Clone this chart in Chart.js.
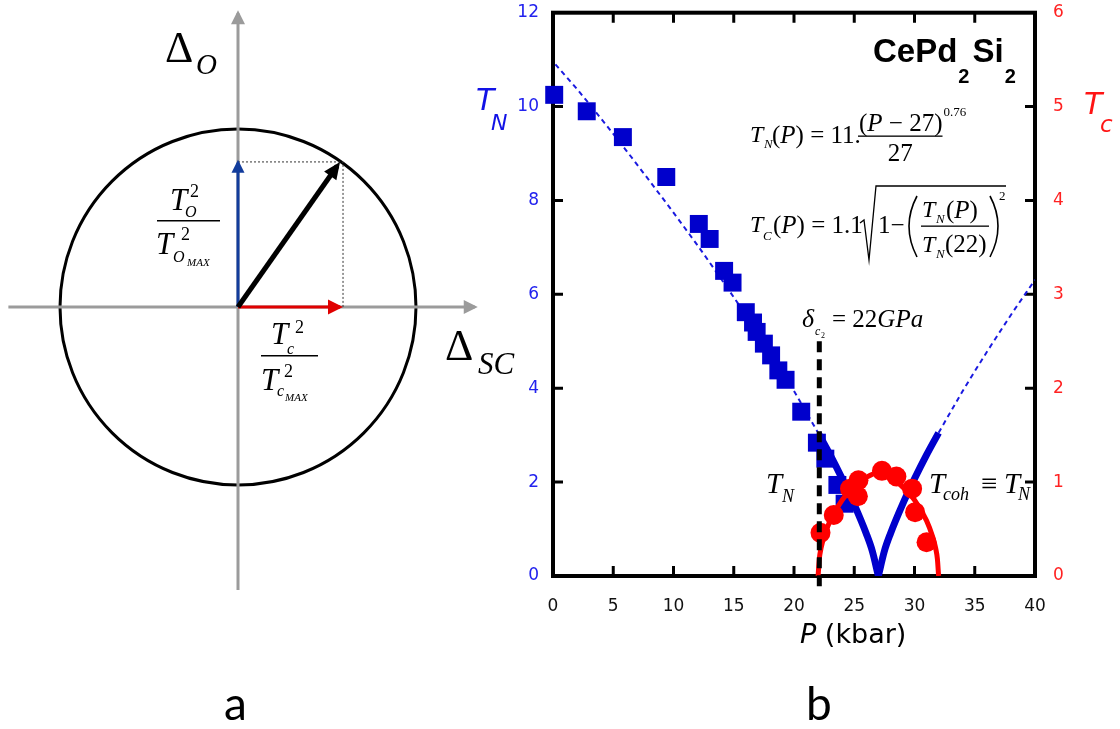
<!DOCTYPE html>
<html>
<head>
<meta charset="utf-8">
<script src="https://cdn.jsdelivr.net/npm/chart.js@4.4.1/dist/chart.umd.min.js"></script>
<style>
  html, body { margin: 0; background: #fff; }
  #wrap { position: relative; width: 1120px; height: 729px; }
  canvas { position: absolute; left: 0; top: 0; }
</style>
</head>
<body>
<div id="wrap">
  <canvas id="circleChart" width="540" height="600"></canvas>
  <canvas id="phaseChart" width="1120" height="729"></canvas>
</div>
<script>
// ---------- panel a : order parameter circle (units of circle radius) ----------
const circleRadius = 1;
const axisX = [-1.29, 1.33];        // Delta_SC axis
const axisY = [-1.59, 1.65];        // Delta_O axis
const orderTip = 0.81;              // T_O^2 / T_Omax^2
const scTip = 0.573;                // T_c^2 / T_cmax^2
const resultX = [0, 0.557];
const resultY = [0, 0.792];
const guideX = [0, 0.59, 0.59];
const guideY = [0.815, 0.815, 0];

// ---------- panel b : CePd2Si2 phase diagram ----------
const xTickValues = [0, 5, 10, 15, 20, 25, 30, 35, 40];
const pN = [0.1, 2.8, 5.8, 9.4, 12.1, 13.0, 14.2, 14.9, 16.0, 16.6, 16.9, 17.5, 18.1, 18.7, 19.3, 20.6, 21.9, 22.6, 23.6, 24.2];
const tN = [10.25, 9.9, 9.35, 8.5, 7.5, 7.18, 6.5, 6.25, 5.62, 5.4, 5.2, 4.95, 4.7, 4.38, 4.18, 3.5, 2.84, 2.5, 1.94, 1.54];
const pC = [22.2, 23.3, 24.65, 25.35, 25.3, 27.3, 28.5, 29.8, 30.05, 31.0];
const tC = [0.46, 0.65, 0.93, 1.02, 0.85, 1.12, 1.06, 0.93, 0.68, 0.36];

const fitLeftP = [0.2, 2, 4, 6, 8, 10, 12, 14, 16, 18, 20, 22];
const fitLeftT = [10.9, 10.37, 9.74, 9.09, 8.42, 7.74, 7.04, 6.31, 5.56, 4.77, 3.94, 3.05];
const vLeftP = [22, 23, 24, 25, 26, 26.5, 27];
const vLeftT = [3.05, 2.58, 2.07, 1.52, 0.90, 0.53, 0];
const vRightP = [27, 27.5, 28, 29, 30, 31, 32];
const vRightT = [0, 0.53, 0.90, 1.52, 2.07, 2.58, 3.05];
const fitRightP = [32, 34, 36, 38, 40];
const fitRightT = [3.05, 3.94, 4.77, 5.56, 6.31];
const tcFitP = [22, 22.1, 22.25, 22.5, 23, 24, 25, 26, 27, 28, 29, 30, 31, 31.5, 31.75, 31.9, 32];
const tcFitT = [0, 0.18, 0.30, 0.42, 0.59, 0.81, 0.95, 1.05, 1.10, 1.05, 0.95, 0.81, 0.59, 0.42, 0.30, 0.18, 0];
const deltaP = [22.1, 22.1];
const deltaT = [5.0, -0.34];

const pts = (xs, ys) => xs.map((x, i) => ({ x: x, y: ys[i] }));
const SERIF = '"Liberation Serif"';
const SANS = '"DejaVu Sans"';

function put(ctx, t, x, y, font) {
  ctx.font = font;
  ctx.fillText(t, x, y);
  return x + ctx.measureText(t).width;
}

// arrow heads at the end of datasets that ask for one
const arrowHeads = {
  id: 'arrowHeads',
  afterDatasetsDraw(chart) {
    const ctx = chart.ctx;
    chart.data.datasets.forEach((ds, i) => {
      if (!ds.head) return;
      const el = chart.getDatasetMeta(i).data;
      const a = el[el.length - 2], b = el[el.length - 1];
      const ang = Math.atan2(b.y - a.y, b.x - a.x);
      const len = ds.head[0], wid = ds.head[1];
      const ext = ds.borderWidth;
      ctx.save();
      ctx.fillStyle = ds.borderColor;
      ctx.translate(b.x + Math.cos(ang) * ext, b.y + Math.sin(ang) * ext);
      ctx.rotate(ang);
      ctx.beginPath();
      ctx.moveTo(0, 0);
      ctx.lineTo(-len, wid / 2);
      ctx.lineTo(-len, -wid / 2);
      ctx.closePath();
      ctx.fill();
      ctx.restore();
    });
  }
};

const circlePlugin = {
  id: 'circle',
  beforeDatasetsDraw(chart) {
    const { ctx, scales } = chart;
    const cx = scales.x.getPixelForValue(0), cy = scales.y.getPixelForValue(0);
    const r = scales.x.getPixelForValue(circleRadius) - cx;
    ctx.save();
    ctx.strokeStyle = '#000';
    ctx.lineWidth = 3;
    ctx.beginPath();
    ctx.arc(cx, cy, r, 0, Math.PI * 2);
    ctx.stroke();
    ctx.restore();
  }
};

const circleText = {
  id: 'circleText',
  afterDraw(chart) {
    const ctx = chart.ctx;
    ctx.save();
    ctx.fillStyle = '#000';
    ctx.textAlign = 'left';
    ctx.textBaseline = 'alphabetic';
    put(ctx, '\u0394', 165, 62, `44px ${SERIF}`);
    put(ctx, 'O', 196, 74, `italic 29px ${SERIF}`);
    put(ctx, '\u0394', 445, 360, `44px ${SERIF}`);
    put(ctx, 'SC', 478, 374, `italic 31px ${SERIF}`);

    // T_O^2 / T_Omax^2
    put(ctx, 'T', 170, 210, `italic 31px ${SERIF}`);
    put(ctx, '2', 190, 197, `18px ${SERIF}`);
    put(ctx, 'O', 185, 217, `italic 16px ${SERIF}`);
    ctx.fillRect(157, 220, 63, 1.5);
    put(ctx, 'T', 156, 254, `italic 31px ${SERIF}`);
    put(ctx, '2', 181, 240, `18px ${SERIF}`);
    put(ctx, 'O', 173, 262, `italic 16px ${SERIF}`);
    put(ctx, 'MAX', 187, 266, `italic 11px ${SERIF}`);

    // T_c^2 / T_cmax^2
    put(ctx, 'T', 271, 344, `italic 31px ${SERIF}`);
    put(ctx, '2', 295, 333, `18px ${SERIF}`);
    put(ctx, 'c', 287, 354, `italic 16px ${SERIF}`);
    ctx.fillRect(261, 355, 57, 1.5);
    put(ctx, 'T', 261, 390, `italic 31px ${SERIF}`);
    put(ctx, '2', 284, 377, `18px ${SERIF}`);
    put(ctx, 'c', 277, 396, `italic 16px ${SERIF}`);
    put(ctx, 'MAX', 285, 401, `italic 11px ${SERIF}`);
    ctx.restore();
  }
};

new Chart(document.getElementById('circleChart'), {
  type: 'scatter',
  data: {
    datasets: [
      { data: pts(axisX, [0, 0]), showLine: true, borderColor: '#9b9b9b', borderWidth: 3, pointRadius: 0, head: [14, 14], order: 5 },
      { data: pts([0, 0], axisY), showLine: true, borderColor: '#9b9b9b', borderWidth: 3, pointRadius: 0, head: [14, 14], order: 4 },
      { data: pts(guideX, guideY), showLine: true, borderColor: '#333', borderWidth: 1, borderDash: [2, 2], pointRadius: 0, order: 3 },
      { data: pts([0, 0], [0, orderTip]), showLine: true, borderColor: '#123c9c', borderWidth: 3, pointRadius: 0, head: [13, 13], order: 2 },
      { data: pts([0, scTip], [0, 0]), showLine: true, borderColor: '#e00000', borderWidth: 3, pointRadius: 0, head: [15, 15], order: 1 },
      { data: pts(resultX, resultY), showLine: true, borderColor: '#000', borderWidth: 5, pointRadius: 0, head: [17, 15], order: 0 }
    ]
  },
  options: {
    responsive: false,
    animation: false,
    layout: { padding: 0 },
    plugins: { legend: { display: false }, tooltip: { enabled: false } },
    scales: {
      x: { type: 'linear', display: false, min: -238 / 178, max: 302 / 178 },
      y: { type: 'linear', display: false, min: -293 / 178, max: 307 / 178 }
    }
  },
  plugins: [circlePlugin, arrowHeads, circleText]
});

// frame with inward ticks on all four sides
const framePlugin = {
  id: 'frame',
  beforeDatasetsDraw(chart) {
    const { ctx, chartArea: a, scales } = chart;
    ctx.save();
    ctx.strokeStyle = '#000';
    ctx.lineWidth = 3;
    ctx.beginPath();
    scales.x.ticks.forEach(t => {
      if (t.value <= 0 || t.value >= 40) return;
      const px = scales.x.getPixelForValue(t.value);
      ctx.moveTo(px, a.bottom); ctx.lineTo(px, a.bottom - 10);
      ctx.moveTo(px, a.top); ctx.lineTo(px, a.top + 10);
    });
    scales.y.ticks.forEach(t => {
      if (t.value <= 0 || t.value >= 12) return;
      const py = scales.y.getPixelForValue(t.value);
      ctx.moveTo(a.left, py); ctx.lineTo(a.left + 10, py);
    });
    scales.y2.ticks.forEach(t => {
      if (t.value <= 0 || t.value >= 6) return;
      const py = scales.y2.getPixelForValue(t.value);
      ctx.moveTo(a.right, py); ctx.lineTo(a.right - 10, py);
    });
    ctx.stroke();
    ctx.lineWidth = 4;
    ctx.strokeRect(a.left, a.top, a.right - a.left, a.bottom - a.top);
    ctx.restore();
  }
};

const phaseText = {
  id: 'phaseText',
  afterDraw(chart) {
    const ctx = chart.ctx;
    ctx.save();
    ctx.textAlign = 'left';
    ctx.textBaseline = 'alphabetic';
    let x;

    // axis titles
    ctx.fillStyle = '#000';
    x = put(ctx, 'P', 800, 643, `italic 27px ${SANS}`);
    put(ctx, ' (kbar)', x, 643, `27px ${SANS}`);
    ctx.fillStyle = '#1212e6';
    put(ctx, 'T', 476, 110, `italic 30px ${SANS}`);
    put(ctx, 'N', 491, 130, `italic 22px ${SANS}`);
    ctx.fillStyle = '#ff1414';
    put(ctx, 'T', 1084, 114, `italic 30px ${SANS}`);
    put(ctx, 'c', 1100, 132, `italic 23px ${SANS}`);

    // compound name
    ctx.fillStyle = '#000';
    x = put(ctx, 'CePd', 873, 62, `bold 33px "Liberation Sans"`);
    x = put(ctx, '2', x + 1, 83, `bold 20px "Liberation Sans"`);
    x = put(ctx, 'Si', x + 3, 62, `bold 33px "Liberation Sans"`);
    put(ctx, '2', x + 1, 83, `bold 20px "Liberation Sans"`);

    // T_N(P) = 11.(P-27)^0.76 / 27
    put(ctx, 'T', 750, 142, `italic 24px ${SERIF}`);
    put(ctx, 'N', 764, 148, `italic 13px ${SERIF}`);
    x = put(ctx, '(', 772, 143, `25px ${SERIF}`);
    x = put(ctx, 'P', x, 143, `italic 25px ${SERIF}`);
    x = put(ctx, ')', x, 143, `25px ${SERIF}`);
    put(ctx, ' = 11.', x, 143, `25px ${SERIF}`);
    x = put(ctx, '(', 859, 131, `25px ${SERIF}`);
    x = put(ctx, 'P', x, 131, `italic 25px ${SERIF}`);
    x = put(ctx, ' \u2212 27', x, 131, `25px ${SERIF}`);
    x = put(ctx, ')', x, 131, `25px ${SERIF}`);
    put(ctx, '0.76', x + 1, 116, `13px ${SERIF}`);
    ctx.fillRect(858, 135.5, x - 858, 1.3);
    ctx.font = `25px ${SERIF}`;
    put(ctx, '27', (858 + x) / 2 - ctx.measureText('27').width / 2, 161, `25px ${SERIF}`);

    // T_C(P) = 1.1 sqrt(1 - (T_N(P)/T_N(22))^2)
    put(ctx, 'T', 750, 232, `italic 24px ${SERIF}`);
    put(ctx, 'C', 763, 240, `italic 13px ${SERIF}`);
    x = put(ctx, '(', 773, 233, `25px ${SERIF}`);
    x = put(ctx, 'P', x, 233, `italic 25px ${SERIF}`);
    x = put(ctx, ')', x, 233, `25px ${SERIF}`);
    put(ctx, ' = 1.1', x, 233, `25px ${SERIF}`);
    ctx.strokeStyle = '#000';
    ctx.lineWidth = 1.3;
    ctx.beginPath();
    ctx.moveTo(860, 223); ctx.lineTo(864, 220); ctx.lineTo(869, 260); ctx.lineTo(876, 186); ctx.lineTo(1006, 186);
    ctx.stroke();
    put(ctx, '1\u2212', 878, 233, `25px ${SERIF}`);
    ctx.lineWidth = 1.6;
    ctx.beginPath();
    ctx.moveTo(917, 196); ctx.quadraticCurveTo(901, 226, 917, 257);
    ctx.moveTo(990, 196); ctx.quadraticCurveTo(1006, 226, 990, 257);
    ctx.stroke();
    put(ctx, 'T', 922, 217, `italic 24px ${SERIF}`);
    put(ctx, 'N', 936, 223, `italic 13px ${SERIF}`);
    x = put(ctx, '(', 946, 218, `25px ${SERIF}`);
    x = put(ctx, 'P', x, 218, `italic 25px ${SERIF}`);
    put(ctx, ')', x, 218, `25px ${SERIF}`);
    ctx.fillRect(921, 225.5, 68, 1.3);
    put(ctx, 'T', 922, 252, `italic 24px ${SERIF}`);
    put(ctx, 'N', 936, 258, `italic 13px ${SERIF}`);
    put(ctx, '(22)', 945, 252, `25px ${SERIF}`);
    put(ctx, '2', 999, 200, `13px ${SERIF}`);

    // delta_c2 = 22GPa
    put(ctx, '\u03b4', 802, 327, `italic 26px ${SERIF}`);
    put(ctx, 'c', 815, 335, `italic 12px ${SERIF}`);
    put(ctx, '2', 821, 338, `8px ${SERIF}`);
    x = put(ctx, '= 22', 832, 327, `25px ${SERIF}`);
    put(ctx, 'GPa', x, 327, `italic 25px ${SERIF}`);

    // T_N and T_coh = T_N labels
    put(ctx, 'T', 766, 493, `italic 29px ${SERIF}`);
    put(ctx, 'N', 782, 502, `italic 18px ${SERIF}`);
    put(ctx, 'T', 929, 493, `italic 29px ${SERIF}`);
    put(ctx, 'coh', 943, 500, `italic 18px ${SERIF}`);
    put(ctx, '\u2261', 981, 493, `29px ${SERIF}`);
    put(ctx, 'T', 1004, 493, `italic 29px ${SERIF}`);
    put(ctx, 'N', 1018, 500, `italic 18px ${SERIF}`);

    // panel letters
    put(ctx, 'a', 224, 720, `46px Lato`);
    put(ctx, 'b', 806, 720, `46px Lato`);
    ctx.restore();
  }
};

const tickFont = { family: 'DejaVu Sans', size: 17 };
const noEdgePadding = s => { s.paddingTop = 0; s.paddingBottom = 0; };

new Chart(document.getElementById('phaseChart'), {
  type: 'scatter',
  data: {
    datasets: [
      { data: pts(deltaP, deltaT), showLine: true, borderColor: '#000', borderWidth: 5, borderDash: [11, 7], pointRadius: 0, clip: false, yAxisID: 'y', order: 0 },
      { data: pts(pC, tC), pointStyle: 'circle', pointRadius: 10, backgroundColor: '#ff0000', borderWidth: 0, yAxisID: 'y2', clip: false, order: 1 },
      { data: pts(tcFitP, tcFitT), showLine: true, borderColor: '#ff0000', borderWidth: 5, pointRadius: 0, cubicInterpolationMode: 'monotone', yAxisID: 'y2', order: 2 },
      { data: pts(pN, tN), pointStyle: 'rect', pointRadius: 12.7, backgroundColor: '#0000cc', borderWidth: 0, yAxisID: 'y', clip: false, order: 3 },
      { data: pts(vLeftP, vLeftT), showLine: true, borderColor: '#0000cc', borderWidth: 7, pointRadius: 0, cubicInterpolationMode: 'monotone', yAxisID: 'y', order: 4 },
      { data: pts(vRightP, vRightT), showLine: true, borderColor: '#0000cc', borderWidth: 7, pointRadius: 0, cubicInterpolationMode: 'monotone', yAxisID: 'y', order: 4 },
      { data: pts(fitLeftP, fitLeftT), showLine: true, borderColor: '#1a1ae0', borderWidth: 2, borderDash: [5, 4], pointRadius: 0, cubicInterpolationMode: 'monotone', yAxisID: 'y', order: 5 },
      { data: pts(fitRightP, fitRightT), showLine: true, borderColor: '#1a1ae0', borderWidth: 2, borderDash: [5, 4], pointRadius: 0, cubicInterpolationMode: 'monotone', yAxisID: 'y', order: 5 }
    ]
  },
  options: {
    responsive: false,
    animation: false,
    layout: { padding: { left: 440, top: 12, right: 0, bottom: 0 } },
    plugins: { legend: { display: false }, tooltip: { enabled: false } },
    scales: {
      x: {
        type: 'linear', position: 'bottom', min: 0, max: 40,
        afterBuildTicks: s => { s.ticks = xTickValues.map(v => ({ value: v })); },
        ticks: { color: '#111', font: tickFont, padding: 12, maxRotation: 0, autoSkip: false },
        grid: { display: false }, border: { display: false },
        afterFit: s => { s.height = 153; }
      },
      y: {
        type: 'linear', position: 'left', min: 0, max: 12,
        ticks: { stepSize: 2, color: '#2222ee', font: tickFont, padding: 6 },
        grid: { display: false }, border: { display: false },
        afterFit: s => { s.width = 113; noEdgePadding(s); }
      },
      y2: {
        type: 'linear', position: 'right', min: 0, max: 6,
        ticks: { stepSize: 1, color: '#ff2222', font: tickFont, padding: 10 },
        grid: { display: false }, border: { display: false },
        afterFit: s => { s.width = 85; noEdgePadding(s); }
      }
    }
  },
  plugins: [framePlugin, phaseText]
});
</script>
</body>
</html>
